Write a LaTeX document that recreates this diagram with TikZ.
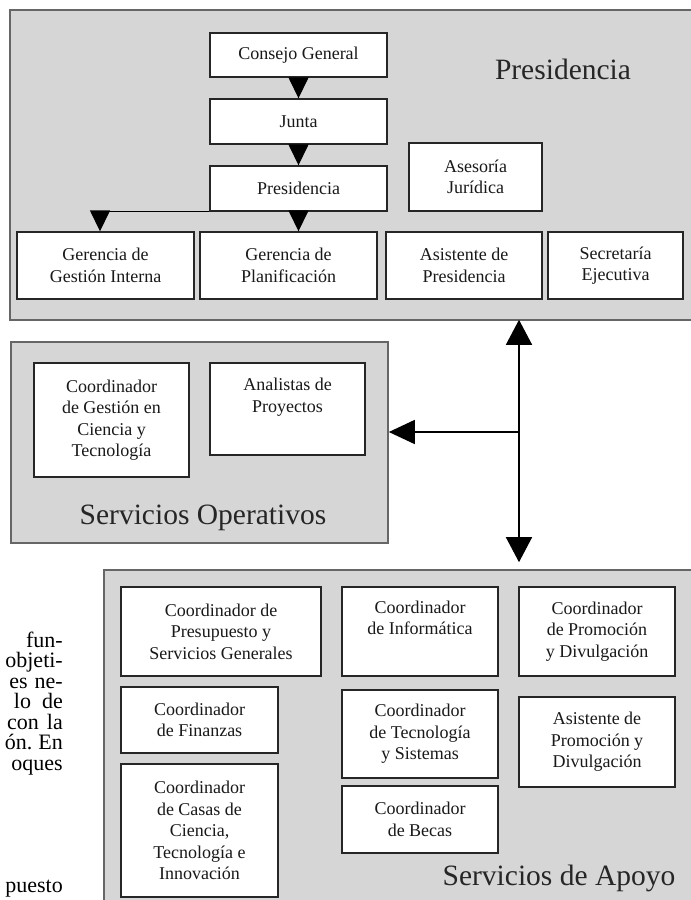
\documentclass[tikz,border=0pt]{standalone}
\usepackage{fontspec}
\setmainfont{Liberation Serif}
\usetikzlibrary{arrows.meta}
\begin{document}
\begin{tikzpicture}[x=1pt,y=-1pt,
  grp/.style={draw=black!60, line width=1.6pt, fill=black!16, inner sep=0pt},
  unit/.style={draw=black!85, line width=1.4pt, fill=white, inner sep=0pt,
    align=center, text=black!90, font=\fontsize{18}{21.5}\selectfont},
  biglabel/.style={font=\fontsize{29.5}{34}\selectfont, inner sep=0pt, text=black!85},
  frag/.style={font=\fontsize{22}{20.5}\selectfont, anchor=base east, inner sep=0pt},
  conn/.style={line width=1.5pt, draw=black},
  tipS/.style={-{Triangle[width=20pt,length=21pt]}},
  tipW/.style={-{Triangle[width=24pt,length=26pt]}},
  dbl/.style={{Triangle[width=26pt,length=25pt]}-{Triangle[width=26pt,length=25pt]}}
]
\useasboundingbox (0,0) rectangle (691,900);
\clip (0,0) rectangle (691,900);

% group frames
\node[grp, minimum width=695pt, minimum height=310pt] (gpres) at (357.5,165) {};
\node[grp, minimum width=377pt, minimum height=201pt] (gop) at (199.5,442.5) {};
\node[grp, minimum width=601pt, minimum height=345pt] (gapo) at (404.5,742.5) {};

% Presidencia
\node[biglabel] (lpres) at (563,69) {Presidencia};
\node[unit, minimum width=177pt, minimum height=44pt] (cg) at (298.5,55) {Consejo General};
\node[unit, minimum width=177pt, minimum height=45pt] (junta) at (298.5,121.5) {Junta};
\node[unit, minimum width=177pt, minimum height=45pt] (pres) at (298.5,188.5) {Presidencia};
\node[unit, minimum width=133pt, minimum height=68pt] (ases) at (475.5,177) {Asesoría\\Jurídica};
\node[unit, minimum width=177pt, minimum height=67pt] (gi) at (105.5,265.5) {Gerencia de\\Gestión Interna};
\node[unit, minimum width=177pt, minimum height=67pt] (gp) at (288.5,265.5) {Gerencia de\\Planificación};
\node[unit, minimum width=156pt, minimum height=67pt] (ap) at (464,265.5) {Asistente de\\Presidencia};
\node[unit, minimum width=135pt, minimum height=67pt] (se) at (615.5,265.5) {Secretaría\\Ejecutiva};

% Servicios Operativos
\node[unit, minimum width=155pt, minimum height=114pt] (cgct) at (111.5,420) {Coordinador\\de Gestión en\\Ciencia y\\Tecnología};
\node[unit, minimum width=155pt, minimum height=92pt] (ana) at (287.5,409) {Analistas de\\Proyectos\\\strut};
\node[biglabel] (lop) at (203,518) {Servicios Operativos};

% Servicios de Apoyo
\node[unit, minimum width=200pt, minimum height=89pt] (pre) at (221,631.5) {Coordinador de\\Presupuesto y\\Servicios Generales};
\node[unit, minimum width=156pt, minimum height=89pt] (inf) at (420,631.5) {Coordinador\\de Informática\\\strut};
\node[unit, minimum width=156pt, minimum height=89pt] (prom) at (597,631.5) {Coordinador\\de Promoción\\y Divulgación};
\node[unit, minimum width=157pt, minimum height=66pt] (fin) at (199.5,720) {Coordinador\\de Finanzas};
\node[unit, minimum width=157pt, minimum height=133pt] (casas) at (199.5,830.5) {Coordinador\\de Casas de\\Ciencia,\\Tecnología e\\Innovación};
\node[unit, minimum width=156pt, minimum height=88pt] (tec) at (420,734) {Coordinador\\de Tecnología\\y Sistemas};
\node[unit, minimum width=156pt, minimum height=67pt] (becas) at (420,819.5) {Coordinador\\de Becas};
\node[unit, minimum width=156pt, minimum height=90pt] (asp) at (597,742) {Asistente de\\Promoción y\\Divulgación};
\node[biglabel] (lapo) at (559,878) {Servicios de Apoyo};

% connectors inside Presidencia
\draw[conn, tipS] (cg) -- (junta);
\draw[conn, tipS] (junta) -- (pres);
\draw[conn, tipS] (pres.south) -- (pres.south |- gp.north);
\path (gi.north) ++(-5.5,0) coordinate (gitop);
\draw[conn, tipS] (pres.south west) -| (gitop);

% bus between groups
\coordinate (busx) at (519,432);
\draw[conn, dbl, shorten <=-1pt, shorten >=7pt] (busx |- gpres.south) -- (busx |- gapo.north);
\draw[conn, tipW] (busx) -- (busx -| gop.east);

% fragments of the surrounding page text
\node[frag] (f1) at (63,647) {fun-};
\node[frag] (f2) at (63,667.5) {objeti-};
\node[frag] (f3) at (63,688) {es\hspace{7pt}ne-};
\node[frag] (f4) at (63,708.5) {lo\hspace{11pt}de};
\node[frag] (f5) at (63,729) {con\hspace{8pt}la};
\node[frag] (f6) at (63,749.5) {ón.\hspace{6pt}En};
\node[frag] (f7) at (63,770) {oques};
\node[frag] (f8) at (63,892) {puesto};
\end{tikzpicture}
\end{document}
